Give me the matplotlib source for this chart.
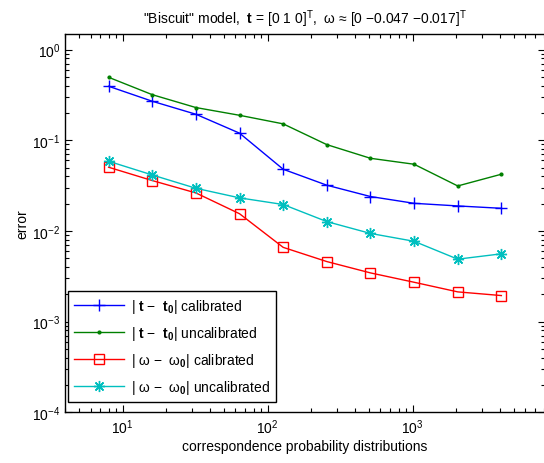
import numpy as np
import matplotlib
matplotlib.use("Agg")
import matplotlib.pyplot as plt
from matplotlib.ticker import LogLocator, NullFormatter

plt.rcParams['font.family'] = ['Liberation Sans', 'DejaVu Sans']
plt.rcParams['mathtext.fontset'] = 'custom'
plt.rcParams['mathtext.rm'] = 'Liberation Sans'
plt.rcParams['mathtext.it'] = 'Liberation Sans:italic'
plt.rcParams['mathtext.bf'] = 'Liberation Sans:bold'

# number of correspondence probability distributions
n_dists = [8, 16, 32, 64, 128, 256, 512, 1024, 2048, 4096]

t_calib = [0.395, 0.27, 0.194, 0.12, 0.048, 0.032, 0.024, 0.0202, 0.0189, 0.0178]
t_uncalib = [0.496, 0.319, 0.23, 0.189, 0.152, 0.0897, 0.0634, 0.0545, 0.0314, 0.0423]
w_calib = [0.0505, 0.036, 0.0263, 0.0155, 0.0066, 0.0046, 0.00345, 0.00272, 0.00213, 0.00194]
w_uncalib = [0.0588, 0.0415, 0.0296, 0.0232, 0.0196, 0.0127, 0.0094, 0.0077, 0.00489, 0.0056]

labels = [
    r'| $\mathbf{t}$ $-$  $\mathbf{t}_\mathbf{0}$| calibrated',
    r'| $\mathbf{t}$ $-$  $\mathbf{t}_\mathbf{0}$| uncalibrated',
    '| \u03c9 $-$  \u03c9$_\\mathbf{0}$| calibrated',
    '| \u03c9 $-$  \u03c9$_\\mathbf{0}$| uncalibrated',
]

fig = plt.figure(figsize=(5.44, 4.64), dpi=100)
ax = fig.add_axes([65 / 544, 50.7 / 464, 480 / 544, 378.3 / 464])

ax.plot(n_dists, t_calib, color='#0000ff', lw=1.0, marker='+', ms=9, mew=1.0, label=labels[0])
ax.plot(n_dists, t_uncalib, color='#008000', lw=1.0, marker='.', ms=4, label=labels[1])
ax.plot(n_dists, w_calib, color='#ff0000', lw=1.0, marker='s', ms=7, mfc='none', mew=1.0, label=labels[2])
ax.plot(n_dists, w_uncalib, color='#00bfbf', lw=1.0, marker=(8, 2, 0), ms=8, mew=1.0, label=labels[3])

ax.set_xscale('log')
ax.set_yscale('log')
ax.set_xlim(4, 8192)
ax.set_ylim(1e-4, 1.49)

ax.xaxis.set_major_locator(LogLocator(base=10, numticks=10))
ax.xaxis.set_minor_locator(LogLocator(base=10, subs=np.arange(2, 10), numticks=10))
ax.yaxis.set_major_locator(LogLocator(base=10, numticks=10))
ax.yaxis.set_minor_locator(LogLocator(base=10, subs=np.arange(2, 10), numticks=10))
ax.xaxis.set_minor_formatter(NullFormatter())
ax.yaxis.set_minor_formatter(NullFormatter())

ax.tick_params(which='both', direction='in', top=True, right=True, labelsize=10, width=0.8)
ax.tick_params(which='major', length=5)
ax.tick_params(which='minor', length=3)
for sp in ax.spines.values():
    sp.set_linewidth(1.0)

ax.set_xlabel('correspondence probability distributions', fontsize=10, labelpad=2)
ax.set_ylabel('error', fontsize=10, labelpad=2)
ax.set_title('"Biscuit" model,  $\\mathbf{t}$ = [0 1 0]$^\\mathrm{T}$,  \u03c9 \u2248 [0 \u22120.047 \u22120.017]$^\\mathrm{T}$',
             fontsize=10, pad=8)

leg = ax.legend(loc='lower left', bbox_to_anchor=(3 / 480, 10 / 378), borderaxespad=0,
                fontsize=10, fancybox=False, edgecolor='black', framealpha=1,
                handlelength=3.6, borderpad=0.45, labelspacing=0.65, handletextpad=0.5)
leg.get_frame().set_linewidth(1.0)

fig.savefig('out.png', dpi=100)
